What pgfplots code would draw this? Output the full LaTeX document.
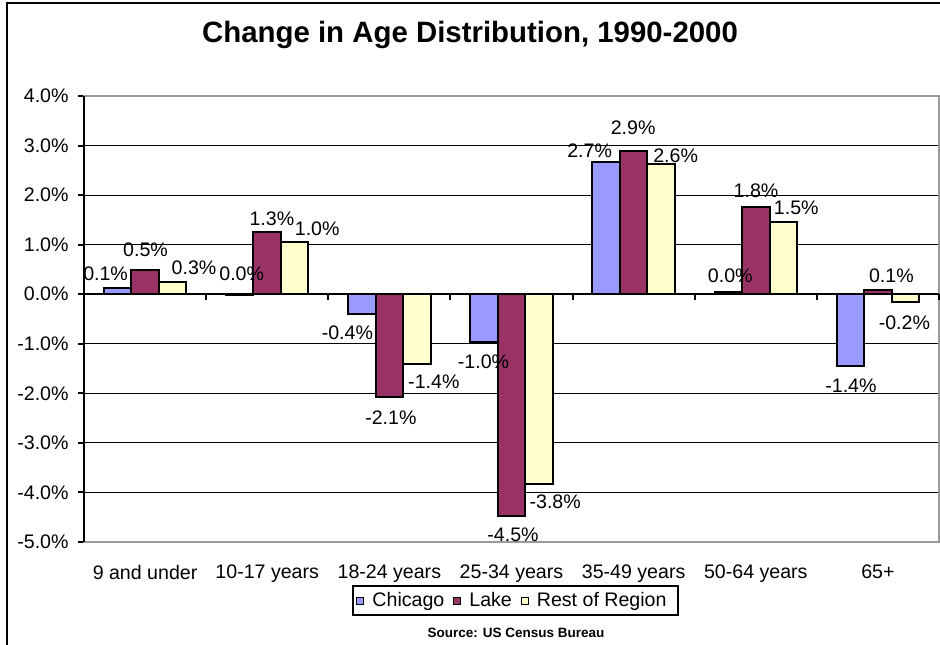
\documentclass[border=0pt]{standalone}
\usepackage{fontspec}
\setmainfont{Liberation Sans}
\usepackage{pgfplots}
\pgfplotsset{compat=1.18}

\definecolor{chicago}{RGB}{153,153,255}
\definecolor{lake}{RGB}{153,51,102}
\definecolor{rest}{RGB}{255,255,204}
\definecolor{plotframe}{RGB}{153,153,153}

\pgfplotsset{
  sqlegend/.style={legend image code/.code={
    \draw[##1,line width=0.5pt] (0pt,-1.75pt) rectangle (3.5pt,1.75pt);}},
  % labels sit at an offset (dx, dy in px) from the bar end
  barlabels/.style={
    point meta=explicit symbolic,
    nodes near coords={\pgfplotspointmeta\%},
    visualization depends on={\thisrow{dx} \as \dx},
    visualization depends on={\thisrow{dy} \as \dy},
    every node near coord/.append style={anchor=center, text=black,
      font=\fontsize{9.8}{11}\selectfont,
      xshift={0.5pt*(\dx)}, yshift={0.5pt*(\dy)}}
  }
}

\begin{document}
\begin{tikzpicture}
\useasboundingbox (0,0) rectangle (470pt,322pt);
\draw[line width=1pt] (3.5pt,-10pt) -- (3.5pt,320.5pt) -- (480pt,320.5pt);
\node[font=\bfseries\fontsize{14.7}{17}\selectfont] at (235pt,304.5pt) {Change in Age Distribution, 1990-2000};

\begin{axis}[
  at={(42pt,51pt)}, anchor=south west,
  width=427.5pt, height=223pt, scale only axis,
  xmin=-0.5, xmax=6.5, ymin=-5, ymax=4,
  ybar, bar width=0.225,
  clip=false,
  xtick={0,...,6},
  xticklabels={9 and under,10-17 years,18-24 years,25-34 years,35-49 years,50-64 years,65+},
  ytick={-5,...,4},
  yticklabels={-5.0\%,-4.0\%,-3.0\%,-2.0\%,-1.0\%,0.0\%,1.0\%,2.0\%,3.0\%,4.0\%},
  ymajorgrids, grid style={black, line width=0.5pt},
  axis line style={draw=plotframe, line width=1pt},
  xtick style={draw=none},
  ytick style={black, line width=1pt},
  ytick pos=left, xtick pos=bottom, tick align=outside, major tick length=3pt,
  tick label style={font=\fontsize{9.8}{11}\selectfont},
  xticklabel style={yshift=-5pt},
  yticklabel style={xshift=-1.2pt},
  legend columns=3,
  legend style={at={(0.5047,-0.1312)}, anchor=center, draw=black, line width=1pt,
    font=\fontsize{9.8}{11}\selectfont, inner xsep=1.5pt, inner ysep=1pt,
    nodes={inner xsep=4pt},
    /tikz/every even column/.append style={column sep=0.5pt}},
  legend cell align=left,
]
\addplot[fill=chicago, draw=black, line width=1pt, bar shift=-0.225, sqlegend, barlabels]
  table[x=x, y=y, meta=lab] {
x y lab dx dy
0 0.13 0.1 -12 13.9
1 -0.02 0.0 2 21
2 -0.39 -0.4 -14.5 -19.2
3 -0.96 -1.0 -0.5 -20.1
4 2.66 2.7 -16.5 12.1
5 0.05 0.0 2 15.7
6 -1.45 -1.4 0.5 -19.9
};
\addplot[fill=lake, draw=black, line width=1pt, bar shift=0, sqlegend, barlabels]
  table[x=x, y=y, meta=lab] {
x y lab dx dy
0 0.48 0.5 0.5 20.2
1 1.26 1.3 4.7 13.2
2 -2.08 -2.1 1.5 -20.6
3 -4.47 -4.5 1.5 -19.3
4 2.90 2.9 -0.5 22.7
5 1.77 1.8 0.3 15.5
6 0.08 0.1 13.5 14.2
};
\addplot[fill=rest, draw=black, line width=1pt, bar shift=0.225, sqlegend, barlabels]
  table[x=x, y=y, meta=lab] {
x y lab dx dy
0 0.25 0.3 21.5 13.6
1 1.05 1.0 22.5 13.1
2 -1.40 -1.4 17 -18.3
3 -3.82 -3.8 16.2 -18.2
4 2.63 2.6 14.5 7.9
5 1.46 1.5 13 14.4
6 -0.16 -0.2 -1 -20.8
};
\legend{Chicago, Lake, Rest of Region}

\draw[black, line width=1pt] (rel axis cs:0,0) -- (rel axis cs:0,1);
\draw[black, line width=1pt] (axis cs:-0.5,0) -- (axis cs:6.5,0);
\draw[black, line width=1pt] (axis cs:0.5,0) -- ([yshift=-3pt]axis cs:0.5,0);
\draw[black, line width=1pt] (axis cs:1.5,0) -- ([yshift=-3pt]axis cs:1.5,0);
\draw[black, line width=1pt] (axis cs:2.5,0) -- ([yshift=-3pt]axis cs:2.5,0);
\draw[black, line width=1pt] (axis cs:3.5,0) -- ([yshift=-3pt]axis cs:3.5,0);
\draw[black, line width=1pt] (axis cs:4.5,0) -- ([yshift=-3pt]axis cs:4.5,0);
\draw[black, line width=1pt] (axis cs:5.5,0) -- ([yshift=-3pt]axis cs:5.5,0);
\draw[black, line width=1pt] (axis cs:6.5,0) -- ([yshift=-3pt]axis cs:6.5,0);
\end{axis}

\node[font=\bfseries\fontsize{6.75}{8}\selectfont] at (258pt,5.5pt) {Source: US Census Bureau};
\end{tikzpicture}
\end{document}
